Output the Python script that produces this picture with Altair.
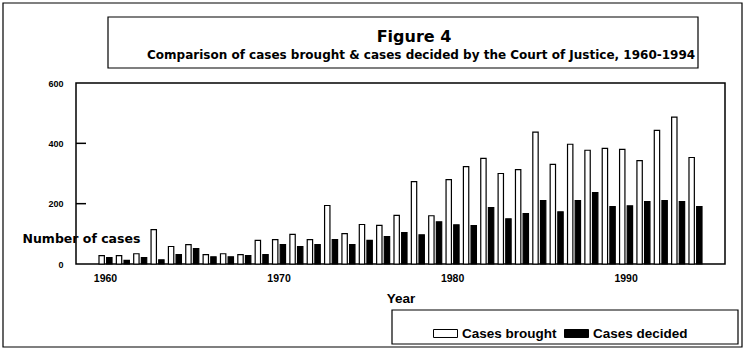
import altair as alt
import pandas as pd

years = list(range(1960, 1995))
brought = [28, 28, 34, 114, 58, 64, 31, 34, 31, 78, 81, 98, 81, 194, 101, 131, 128, 161,
           273, 160, 280, 323, 350, 300, 313, 437, 330, 397, 377, 383, 380, 343, 443, 487, 353]
decided = [21, 12, 21, 14, 31, 51, 24, 24, 28, 31, 64, 58, 64, 81, 64, 78, 91, 104,
           97, 140, 130, 127, 187, 150, 167, 210, 173, 210, 237, 190, 193, 207, 210, 207, 190]
series_names = ["Cases brought", "Cases decided"]
y_ticks = [0, 200, 400, 600]
x_labels = [1960, 1970, 1980, 1990]
inner_ticks = [200, 400]
title_text = "Figure 4"
subtitle_text = "Comparison of cases brought & cases decided by the Court of Justice, 1960-1994"

rows = []
for yr, b, d in zip(years, brought, decided):
    rows.append({"year": yr, "series": series_names[0], "cases": b})
    rows.append({"year": yr, "series": series_names[1], "cases": d})
df = pd.DataFrame(rows)

FONT = "Liberation Sans"
WIDE = "DejaVu Sans"
one = pd.DataFrame({"k": [0]})

bars = alt.Chart(df).mark_bar(stroke="black", strokeWidth=1.2).encode(
    x=alt.X(
        "year:O",
        scale=alt.Scale(paddingInner=0.25, paddingOuter=0, range=[23, 626]),
        axis=alt.Axis(
            values=x_labels, labelAngle=0, ticks=False, domain=False,
            labelFont=FONT, labelFontWeight="bold", labelFontSize=10.5,
            labelColor="black", labelPadding=9,
            title="Year", titleFont=FONT, titleFontSize=13.5, titleFontWeight="bold",
            titleColor="black", titleY=34, titleBaseline="middle",
        ),
    ),
    xOffset=alt.XOffset("series:N", scale=alt.Scale(domain=series_names, paddingInner=0.3)),
    y=alt.Y(
        "cases:Q",
        scale=alt.Scale(domain=[0, 600], nice=False),
        axis=alt.Axis(
            values=y_ticks, ticks=False, grid=False, domain=False,
            labelFont=FONT, labelFontWeight="bold", labelFontSize=9,
            labelColor="black", labelPadding=13,
            title="Number of cases", titleFont=WIDE, titleFontSize=12.5,
            titleFontWeight="bold", titleColor="black", titleAngle=0,
            titleX=-54, titleY=155, titleAlign="left", titleBaseline="middle",
        ),
    ),
    fill=alt.Fill(
        "series:N",
        scale=alt.Scale(domain=series_names, range=["white", "black"]),
        legend=alt.Legend(
            title=None, orient="none", legendX=357, legendY=238,
            direction="horizontal",
            symbolType="M-1,-0.333L1,-0.333L1,0.333L-1,0.333Z",
            symbolSize=576, symbolStrokeColor="black", symbolStrokeWidth=1,
            labelFont=FONT, labelFontSize=13.5, labelFontWeight="bold",
            labelColor="black", labelOffset=4, columnPadding=5, padding=0,
        ),
    ),
)

ticks = alt.Chart(pd.DataFrame({"cases": inner_ticks})).mark_rule(
    color="black", strokeWidth=1.5
).encode(y="cases:Q", x=alt.value(0), x2=alt.value(10))

def box(x1, x2, y1, y2):
    return alt.Chart(one).mark_rect(fill=None, stroke="black", strokeWidth=1.2).encode(
        x=alt.value(x1), x2=alt.value(x2), y=alt.value(y1), y2=alt.value(y2)
    )

outer = box(-73, 666, -80, 264)
title_box = box(32, 622, -66, -15)
legend_box = box(316, 662, 227, 261)

title = alt.Chart(one).mark_text(
    text=title_text, font=WIDE, fontSize=16, fontWeight="bold", color="black",
    align="center", baseline="middle",
).encode(x=alt.value(338), y=alt.value(-46))

subtitle = alt.Chart(one).mark_text(
    text=subtitle_text, font=WIDE, fontSize=12, fontWeight="bold", color="black",
    align="left", baseline="middle",
).encode(x=alt.value(71), y=alt.value(-28))

chart = alt.layer(outer, title_box, legend_box, title, subtitle, bars, ticks).properties(
    width=649, height=181,
    autosize=alt.AutoSizeParams(type="none"),
    padding={"left": 76, "top": 83, "right": 21, "bottom": 88},
    background="white",
).configure_view(stroke="black", strokeWidth=1.5)

chart.save("out.html", embed_options={"renderer": "svg", "actions": False})
